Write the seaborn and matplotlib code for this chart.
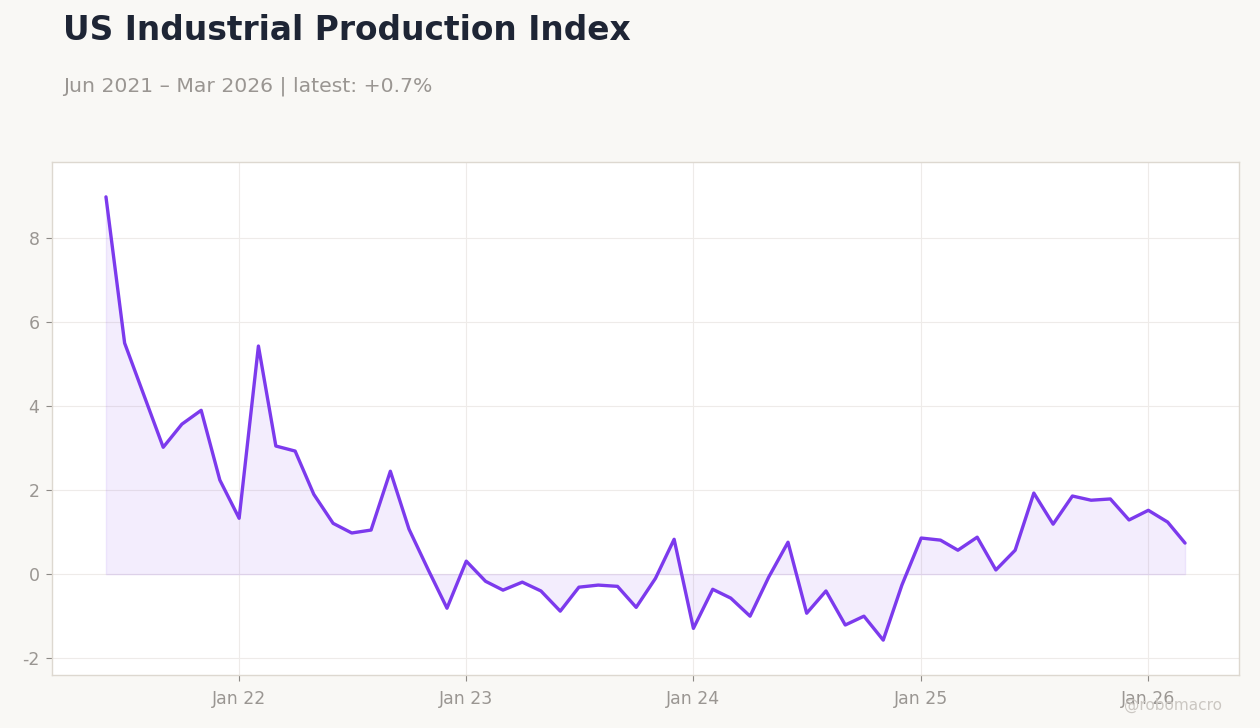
import numpy as np
import pandas as pd
import matplotlib
matplotlib.use("Agg")
import matplotlib.pyplot as plt
import matplotlib.dates as mdates
import seaborn as sns

start_month = "2021-06-01"
values = [8.98, 5.50, 4.26, 3.02, 3.57, 3.90, 2.24, 1.33,
          5.43, 3.05, 2.93, 1.90, 1.21, 0.98, 1.05, 2.45, 1.07, 0.10, -0.81,
          0.31, -0.17, -0.38, -0.19, -0.40, -0.88, -0.31, -0.26, -0.29, -0.79, -0.10, 0.83,
          -1.29, -0.36, -0.57, -1.00, -0.07, 0.76, -0.93, -0.40, -1.21, -1.00, -1.57, -0.26,
          0.86, 0.81, 0.57, 0.88, 0.10, 0.57, 1.93, 1.19, 1.86, 1.76, 1.79, 1.29,
          1.52, 1.24, 0.74]
title = "US Industrial Production Index"
subtitle = "Jun 2021 – Mar 2026 | latest: +0.7%"
watermark = "@robomacro"

dates = pd.date_range(start_month, periods=len(values), freq="MS")
df = pd.DataFrame({"date": dates, "value": values})

sns.set_theme(style="white")
plt.rcParams["font.family"] = ["DejaVu Sans"]
plt.rcParams["axes.unicode_minus"] = False

BG = "#f9f8f5"
LINE = "#7c3aed"
fig = plt.figure(figsize=(12.6, 7.28), dpi=100, facecolor=BG)
ax = fig.add_axes([52 / 1260, 1 - 675 / 728, (1239 - 52) / 1260, (675 - 162) / 728])
ax.set_facecolor("white")

ax.fill_between(df["date"], 0, df["value"], color=LINE, alpha=0.09, linewidth=1)
sns.lineplot(data=df, x="date", y="value", ax=ax, color=LINE, linewidth=2.4)

ax.set_ylim(-2.4, 9.81)
ax.set_yticks([-2, 0, 2, 4, 6, 8])
ax.xaxis.set_major_locator(mdates.YearLocator(month=1, day=1))
ax.xaxis.set_major_formatter(mdates.DateFormatter("%b %y"))
ax.set_xlabel("")
ax.set_ylabel("")
ax.grid(True, color="#eeebe9", linewidth=0.8)
ax.set_axisbelow(True)
for s in ax.spines.values():
    s.set_color("#ddd8d0")
    s.set_linewidth(1)
ax.tick_params(axis="both", colors="#8d8a86", labelcolor="#9a9692", labelsize=12.5,
               length=4, width=0.8, left=True, bottom=True)
ax.tick_params(axis="x", pad=6.5)
ax.tick_params(axis="y", pad=5)

fig.text(63 / 1260, 1 - 31 / 728, title, fontsize=23.7, fontweight="bold",
         color="#1e2535", va="center", ha="left")
fig.text(63 / 1260, 1 - 86 / 728, subtitle, fontsize=14.65, color="#9a9692",
         va="center", ha="left")
fig.text(1222 / 1260, 1 - 705 / 728, watermark, fontsize=11, color="#cbc7c2",
         va="center", ha="right")

fig.savefig("out.png", dpi=100, facecolor=BG)
